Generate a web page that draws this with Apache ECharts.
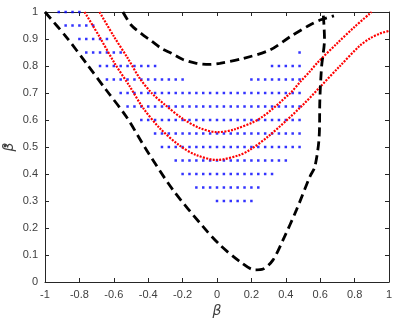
<!DOCTYPE html>
<html>
<head>
<meta charset="utf-8">
<script src="https://cdn.jsdelivr.net/npm/echarts@6/dist/echarts.min.js"></script>
<style>
  html, body { margin: 0; padding: 0; background: #fff; }
  #chart { width: 419px; height: 321px; }
</style>
</head>
<body>
<div id="chart"></div>
<script>
// blue grid of points: [beta_dot, beta from, beta to], points spaced dotStep apart
const dotStep = 0.04;
const dotRows = [
  [1.0, -0.92, -0.80],
  [0.95, -0.88, -0.72],
  [0.9, -0.80, -0.64],
  [0.85, -0.76, -0.56],
  [0.85, 0.48, 0.48],
  [0.8, -0.68, -0.36],
  [0.8, 0.32, 0.48],
  [0.75, -0.64, -0.20],
  [0.75, 0.20, 0.48],
  [0.7, -0.56, 0.48],
  [0.65, -0.52, 0.48],
  [0.6, -0.44, 0.48],
  [0.55, -0.36, 0.48],
  [0.5, -0.32, 0.48],
  [0.45, -0.24, 0.40],
  [0.4, -0.20, 0.32],
  [0.35, -0.12, 0.24],
  [0.3, 0.00, 0.20]
];

// black dashed boundary (lower, V shaped)
const lowerBoundX = [-1, -0.877, -0.76, -0.644, -0.527, -0.41, -0.256, -0.081, 0.016, 0.132, 0.22, 0.268, 0.326, 0.384, 0.462, 0.54, 0.569, 0.594, 0.598, 0.608, 0.625, 0.617];
const lowerBoundY = [1.0, 0.908, 0.81, 0.711, 0.612, 0.489, 0.341, 0.205, 0.138, 0.076, 0.045, 0.048, 0.082, 0.156, 0.267, 0.39, 0.427, 0.538, 0.674, 0.797, 0.90, 1.0];

// black dashed boundary (upper)
const upperBoundX = [-0.547, -0.498, -0.44, -0.382, -0.323, -0.265, -0.198, -0.12, -0.042, 0.016, 0.152, 0.307, 0.424, 0.54, 0.608, 0.68];
const upperBoundY = [1.0, 0.951, 0.92, 0.893, 0.865, 0.847, 0.824, 0.81, 0.806, 0.81, 0.828, 0.859, 0.908, 0.952, 0.972, 0.986];

// red dotted curves
const redHighX = [-0.683, -0.60, -0.52, -0.45, -0.38, -0.30, -0.20, -0.10, 0.0, 0.10, 0.25, 0.425, 0.482, 0.54, 0.588, 0.70, 0.80, 0.899];
const redHighY = [1.0, 0.91, 0.83, 0.755, 0.70, 0.655, 0.605, 0.57, 0.555, 0.565, 0.606, 0.699, 0.74, 0.78, 0.815, 0.885, 0.945, 1.0];
const redLowX = [-0.77, -0.683, -0.595, -0.508, -0.43, -0.333, -0.217, -0.12, 0.0, 0.13, 0.19, 0.30, 0.482, 0.60, 0.715, 0.83, 0.889, 0.947, 1.0];
const redLowY = [1.0, 0.908, 0.81, 0.725, 0.645, 0.57, 0.505, 0.47, 0.452, 0.47, 0.489, 0.54, 0.645, 0.723, 0.80, 0.875, 0.902, 0.92, 0.93];

const xTicks = ['-1', '-0.8', '-0.6', '-0.4', '-0.2', '0', '0.2', '0.4', '0.6', '0.8', '1'];
const yTicks = ['0', '0.1', '0.2', '0.3', '0.4', '0.5', '0.6', '0.7', '0.8', '0.9', '1'];

function pairs(xs, ys) {
  return xs.map((x, i) => [x, ys[i]]);
}

function gridDots() {
  const pts = [];
  dotRows.forEach(([y, from, to]) => {
    const n = Math.round((to - from) / dotStep);
    for (let k = 0; k <= n; k++) {
      pts.push([+(from + k * dotStep).toFixed(2), y]);
    }
  });
  return pts;
}

const chart = echarts.init(document.getElementById('chart'), null, { renderer: 'canvas' });

const labelFont = {
  color: '#404040',
  fontSize: 11,
  fontFamily: 'Liberation Sans, Arial, sans-serif'
};
const nameFont = {
  color: '#404040',
  fontSize: 14,
  fontStyle: 'italic',
  fontFamily: 'DejaVu Sans, sans-serif'
};
const axisCommon = {
  type: 'value',
  splitLine: { show: false },
  axisLine: { show: true, onZero: false, lineStyle: { color: '#262626', width: 1 } },
  axisTick: { show: true, inside: true, length: 4, lineStyle: { color: '#262626' } }
};

const option = {
  animation: false,
  backgroundColor: '#fff',
  grid: { left: 45, right: 30, top: 12, bottom: 39, containLabel: false, outerBoundsMode: 'none' },
  // dot accent of the rotated y label (beta dot)
  graphic: {
    elements: [{
      type: 'circle',
      silent: true,
      z: 100,
      shape: { cx: 5, cy: 146, r: 1.4 },
      style: { fill: '#404040' }
    }]
  },
  xAxis: [
    Object.assign({}, axisCommon, {
      min: -1, max: 1, interval: 0.2,
      name: 'β',
      nameLocation: 'middle',
      nameGap: 22,
      nameMoveOverlap: false,
      nameTextStyle: nameFont,
      axisLabel: Object.assign({ margin: 7, formatter: (v) => xTicks[Math.round((v + 1) * 5)] }, labelFont)
    }),
    Object.assign({}, axisCommon, {
      position: 'top', min: -1, max: 1, interval: 0.2,
      axisLabel: { show: false }
    })
  ],
  yAxis: [
    Object.assign({}, axisCommon, {
      min: 0, max: 1, interval: 0.1,
      name: 'β',
      nameLocation: 'middle',
      nameRotate: 90,
      nameGap: 29,
      nameMoveOverlap: false,
      nameTextStyle: nameFont,
      axisLabel: Object.assign({ margin: 7, formatter: (v) => yTicks[Math.round(v * 10)] }, labelFont)
    }),
    Object.assign({}, axisCommon, {
      position: 'right', min: 0, max: 1, interval: 0.1,
      axisLabel: { show: false }
    })
  ],
  series: [
    {
      type: 'scatter',
      data: gridDots(),
      symbol: 'rect',
      symbolSize: 2.5,
      itemStyle: { color: '#0000ff' },
      silent: true
    },
    {
      type: 'line',
      data: pairs(redHighX, redHighY),
      smooth: 0.3,
      showSymbol: false,
      lineStyle: { color: '#ff0000', width: 2.2, type: [2, 1.3] }
    },
    {
      type: 'line',
      data: pairs(redLowX, redLowY),
      smooth: 0.3,
      showSymbol: false,
      lineStyle: { color: '#ff0000', width: 2.2, type: [2, 1.3] }
    },
    {
      type: 'line',
      data: pairs(lowerBoundX, lowerBoundY),
      smooth: 0.3,
      showSymbol: false,
      lineStyle: { color: '#000', width: 2.8, type: [9, 5] }
    },
    {
      type: 'line',
      data: pairs(upperBoundX, upperBoundY),
      smooth: 0.3,
      showSymbol: false,
      lineStyle: { color: '#000', width: 2.8, type: [9, 5] }
    }
  ]
};

chart.setOption(option);
</script>
</body>
</html>
